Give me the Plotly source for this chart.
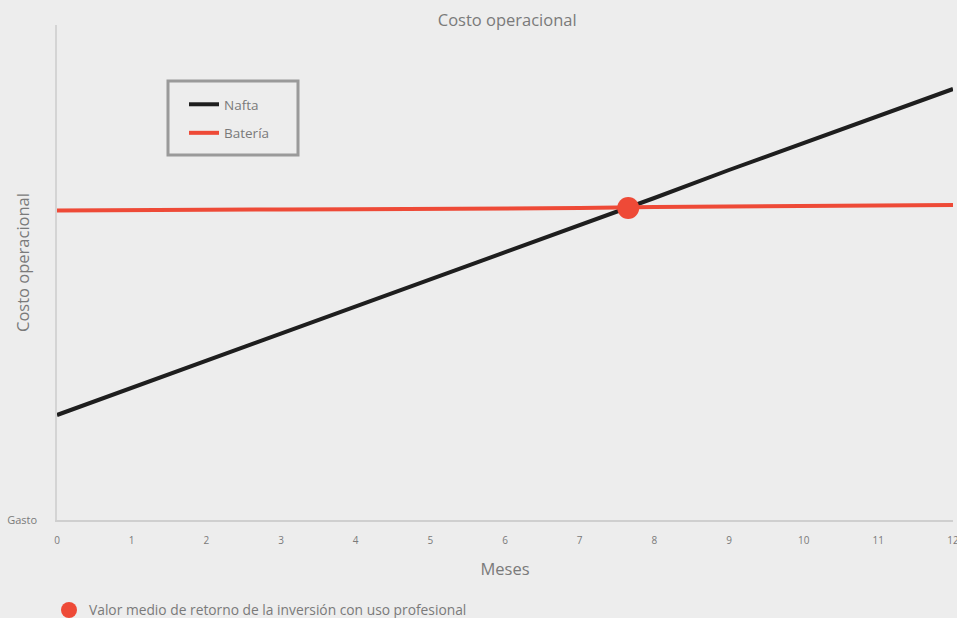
import plotly.graph_objects as go

# datos (unidades arbitrarias de costo)
meses = list(range(13))
nafta = [105, 132, 159, 186, 214, 241, 268, 295, 322, 350, 377, 404, 431]
bateria = [309.5, 309.5, 310.5, 310.5, 310.7, 311, 311.5, 312, 313, 313.5, 314, 314.5, 315]
retorno_x = [7.65]
retorno_y = [312]

fondo = "#ededed"
gris = "#7a7a7a"
rojo = "#ee4a37"
negro = "#1e1e1e"

fig = go.Figure()
fig.add_trace(go.Scatter(x=meses, y=nafta, mode="lines", name="Nafta",
                         line=dict(color=negro, width=4), legendgroup="a"))
fig.add_trace(go.Scatter(x=meses, y=bateria, mode="lines", name="Batería",
                         line=dict(color=rojo, width=4), legendgroup="b"))
fig.add_trace(go.Scatter(x=retorno_x, y=retorno_y, mode="markers",
                         name="Valor medio de retorno de la inversión con uso profesional",
                         marker=dict(color=rojo, size=22), legend="legend2"))

# recuadro de la leyenda (en coordenadas del área de trazado)
fig.add_shape(type="rect", xref="paper", yref="paper",
              x0=(168 - 57) / 896, x1=(298 - 57) / 896,
              y0=(520 - 155) / 495, y1=(520 - 81) / 495,
              line=dict(color="#9a9a9a", width=3), fillcolor="rgba(0,0,0,0)")

fig.update_layout(
    width=957, height=618,
    paper_bgcolor=fondo, plot_bgcolor=fondo,
    margin=dict(l=57, r=4, t=25, b=98, autoexpand=False),
    font=dict(family="Open Sans", color=gris),
    title=dict(text="Costo operacional", x=0.53, xanchor="center",
               y=1 - 20 / 618, yanchor="middle", font=dict(size=16.5, color=gris)),
    legend=dict(x=(184 - 57) / 896, y=(520 - 89) / 495,
                xanchor="left", yanchor="top", bgcolor="rgba(0,0,0,0)",
                borderwidth=0, font=dict(size=13.5, color=gris), tracegroupgap=8,
                traceorder="grouped"),
    legend2=dict(x=-8 / 896, y=(520 - 610) / 495,
                 xanchor="left", yanchor="middle", bgcolor="rgba(0,0,0,0)",
                 font=dict(size=13.8, color=gris)),
    showlegend=True,
    annotations=[dict(text="Costo operacional", textangle=-90, xref="paper",
                      yref="paper", x=(22 - 57) / 896, y=(520 - 263) / 495,
                      xanchor="center", yanchor="middle",
                      showarrow=False, font=dict(size=16.5, color=gris))],
)
fig.update_xaxes(range=[0, 12], tickvals=meses, showgrid=False, zeroline=False,
                 showline=True, linecolor="#cfcfcf", linewidth=1.5,
                 tickfont=dict(size=10, color=gris), ticklabelstandoff=10,
                 ticklabeloverflow="allow",
                 title=dict(text="Meses", font=dict(size=16.5, color=gris), standoff=18))
fig.update_yaxes(range=[0, 495], tickvals=[0], ticktext=["Gasto"], showgrid=False,
                 zeroline=False, showline=True, linecolor="#d4d4d4", linewidth=1.5,
                 tickfont=dict(size=11, color=gris), ticklabelstandoff=16)

fig.write_html("out.html", config={"displayModeBar": False},
               post_script="document.body.style.margin='0';")
